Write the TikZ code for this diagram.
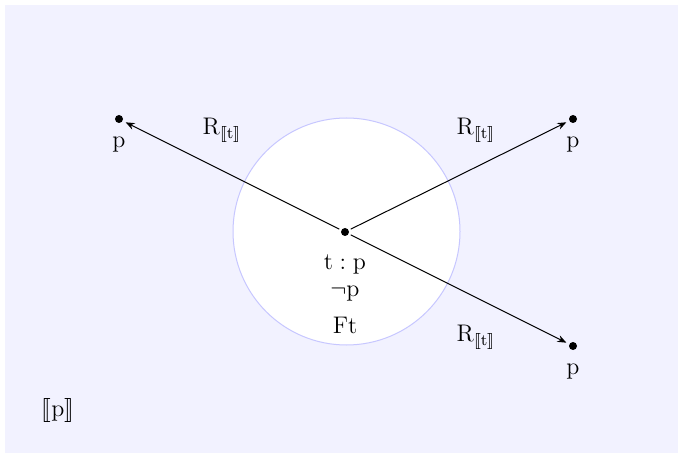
\documentclass[tikz,border=0pt]{standalone}
\usepackage{stmaryrd}
\usetikzlibrary{arrows.meta}
\begin{document}
\begin{tikzpicture}[x=0.5pt,y=-0.5pt,
  world/.style={circle,fill=black,inner sep=0pt,minimum size=4pt},
  lbl/.style={inner sep=1pt,font=\large},
  rel/.style={-{Stealth[length=4.5pt,width=3.5pt]},line width=0.5pt,shorten >=1.5pt,shorten <=1pt}]
\useasboundingbox (0,0) rectangle (683,458);
\fill[blue!5] (5,5) rectangle (678,453);
\node[circle,fill=white,draw=blue!22,line width=0.5pt,minimum size=113.5pt,inner sep=0pt] (c) at (346.5,231.5) {};
\node[world] (w) at (345,232) {};
\node[world] (a) at (119,119) {};
\node[world] (b) at (573,119) {};
\node[world] (d) at (573,346) {};
\draw[rel] (w) -- (a);
\draw[rel] (w) -- (b);
\draw[rel] (w) -- (d);
\node[lbl] (la) at (119,145) {$\mathrm{p}$};
\node[lbl] (lb) at (573,145) {$\mathrm{p}$};
\node[lbl] (ld) at (573,372) {$\mathrm{p}$};
\node[lbl] (l1) at (345,264) {$\mathrm{t}:\mathrm{p}$};
\node[lbl] (l2) at (345,294) {$\neg\mathrm{p}$};
\node[lbl] (l3) at (345,325) {$\mathrm{Ft}$};
\node[lbl] (ra) at (222,130) {$\mathrm{R}_{\llbracket\mathrm{t}\rrbracket}$};
\node[lbl] (rb) at (476,130) {$\mathrm{R}_{\llbracket\mathrm{t}\rrbracket}$};
\node[lbl] (rd) at (476,337) {$\mathrm{R}_{\llbracket\mathrm{t}\rrbracket}$};
\node[lbl] (pp) at (58,410) {$\llbracket\mathrm{p}\rrbracket$};
\end{tikzpicture}
\end{document}
